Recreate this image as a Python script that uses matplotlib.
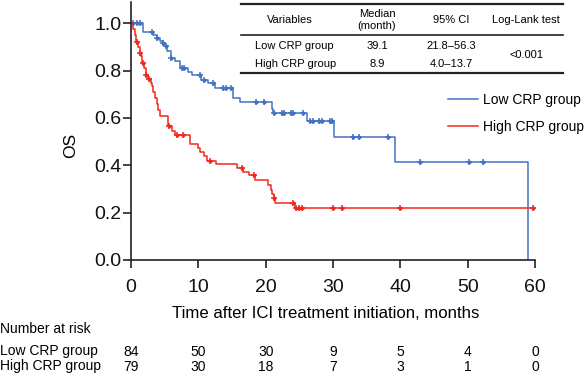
import numpy as np
import matplotlib
matplotlib.use("Agg")
import matplotlib.pyplot as plt
from matplotlib.lines import Line2D
from matplotlib.transforms import blended_transform_factory

plt.rcParams['font.family'] = ['Liberation Sans', 'DejaVu Sans']

# ---- data ----
low_step_t = [1.8, 3.3, 3.8, 4.3, 4.7, 5.1, 5.4, 5.9, 6.5, 7.3, 8.5, 9.0, 10.4, 11.4,
              12.5, 15.2, 16.2, 20.9, 21.1, 26.1, 30.2, 39.2, 59.0]
low_step_s = [0.962, 0.952, 0.938, 0.927, 0.917, 0.903, 0.885, 0.854, 0.842, 0.811,
              0.794, 0.780, 0.762, 0.748, 0.727, 0.683, 0.666, 0.637, 0.620, 0.587,
              0.521, 0.415, 0.0]
low_end = 59.0
low_censor = [0.3, 0.9, 1.4, 3.1, 3.9, 4.8, 5.2, 6.0, 7.5, 7.9, 10.2, 10.9, 12.2, 13.7,
              14.1, 14.9, 18.6, 19.8, 21.3, 22.4, 22.7, 23.8, 24.1, 25.6, 26.6, 27.1,
              27.9, 28.4, 29.5, 29.8, 32.9, 33.8, 38.2, 42.9, 50.2, 52.3]

high_step_t = [0.3, 0.6, 0.8, 1.1, 1.3, 1.5, 1.7, 2.0, 2.2, 2.5, 2.9, 3.1, 3.3, 3.6,
               3.9, 4.0, 4.3, 5.5, 6.1, 6.6, 8.8, 9.9, 10.3, 10.8, 11.3, 12.6, 15.7,
               16.7, 17.5, 18.4, 20.3, 20.8, 21.0, 21.2, 21.4, 24.3]
high_step_s = [0.975, 0.949, 0.922, 0.898, 0.873, 0.860, 0.834, 0.810, 0.782, 0.764,
               0.748, 0.733, 0.710, 0.684, 0.66, 0.633, 0.607, 0.565, 0.544, 0.530,
               0.488, 0.472, 0.458, 0.440, 0.420, 0.406, 0.388, 0.373, 0.357, 0.338,
               0.317, 0.296, 0.279, 0.261, 0.242, 0.218]
high_end = 59.8
high_censor = [0.9, 1.35, 1.8, 2.3, 2.6, 5.7, 6.9, 7.7, 11.8, 16.5, 18.2, 21.3, 24.1,
               24.5, 25.0, 25.4, 30.0, 31.3, 39.9, 59.7]

groups = ["Low CRP group", "High CRP group"]
colors = ["#4472c4", "#f2281c"]
risk_times = [0, 10, 20, 30, 40, 50, 60]
risk_low = [84, 50, 30, 9, 5, 4, 0]
risk_high = [79, 30, 18, 7, 3, 1, 0]

table_header = ["Variables", "Median\n(month)", "95% CI", "Log-Lank test"]
table_median = ["39.1", "8.9"]
table_ci = ["21.8\u201356.3", "4.0\u201313.7"]
table_p = "<0.001"

W, H = 586, 373
fig = plt.figure(figsize=(W / 100, H / 100), dpi=100)

def fx(px):
    return px / W

def fy(py):
    return 1 - py / H

ax = fig.add_axes([fx(131), fy(260), fx(535) - fx(131), fy(2) - fy(260)])

def draw_km(ts, ss, end, cens, color, label):
    x = [0] + list(ts)
    y = [1.0] + list(ss)
    if end > x[-1]:
        x.append(end)
        y.append(y[-1])
    ax.step(x, y, where='post', color=color, lw=1.1, label=label)
    ts_arr = np.array(ts)
    ss_arr = np.array(ss)
    idx = np.searchsorted(ts_arr, np.array(cens), side='right')
    cy = np.where(idx > 0, ss_arr[np.maximum(idx - 1, 0)], 1.0)
    ax.plot(cens, cy, ls='none', marker='+', ms=4, mew=1.1, color=color)
    ax.plot(cens, cy, ls='none', marker='o', ms=1.8, color=color)

draw_km(low_step_t, low_step_s, low_end, low_censor, colors[0], groups[0])
draw_km(high_step_t, high_step_s, high_end, high_censor, colors[1], groups[1])

ax.set_xlim(0, 60)
ax.set_ylim(0, (260 - 2) / 236.7)
ax.set_xticks(risk_times)
ax.set_yticks(np.arange(0, 1.01, 0.2))
ax.set_yticklabels([f"{v:.1f}" for v in np.arange(0, 1.01, 0.2)])
for s in ['top', 'right']:
    ax.spines[s].set_visible(False)
for s in ['left', 'bottom']:
    ax.spines[s].set_linewidth(1.2)
    ax.spines[s].set_color('#222222')
ax.spines['bottom'].set_bounds(0, 60)
ax.tick_params(direction='out', length=5.5, width=1.2, labelsize=14, colors='#222222',
               labelcolor='#111111')
ax.tick_params(axis='x', pad=8.5)
ax.tick_params(axis='y', pad=1.5)
fig.text(fx(326), fy(313), "Time after ICI treatment initiation, months",
         fontsize=12.1, ha='center', va='center')
fig.text(fx(71), fy(145), "OS", fontsize=12.5, rotation=90, ha='center', va='center')

leg = ax.legend(loc='upper left', bbox_to_anchor=((448 - 131) / 404, 1 - (93 - 2) / 258),
                bbox_transform=ax.transAxes, frameon=False, fontsize=10,
                handlelength=2.16, handletextpad=0.36, labelspacing=0.95, borderpad=0,
                borderaxespad=0)

# ---- number at risk ----
tr = blended_transform_factory(ax.transData, fig.transFigure)
fs_r = 10
fig.text(fx(0), fy(329), "Number at risk", fontsize=fs_r, va='center', ha='left')
fig.text(fx(0), fy(351), groups[0], fontsize=fs_r, va='center', ha='left')
fig.text(fx(0), fy(366), groups[1], fontsize=fs_r, va='center', ha='left')
for t, a, b in zip(risk_times, risk_low, risk_high):
    ax.text(t, fy(352), str(a), transform=tr, fontsize=fs_r, ha='center', va='center')
    ax.text(t, fy(367), str(b), transform=tr, fontsize=fs_r, ha='center', va='center')

# ---- table ----
fs_t = 8
x0, x1 = 241, 563
for yy, lw in [(4, 1.6), (35, 1.2), (73, 1.6)]:
    fig.add_artist(Line2D([fx(x0), fx(x1)], [fy(yy), fy(yy)], color='#222222', lw=lw))
col_x = [290, 377, 451, 526]
for cx, h in zip(col_x, table_header):
    fig.text(fx(cx), fy(20), h, fontsize=fs_t, ha='center', va='center', linespacing=1.15)
fig.text(fx(255), fy(46), groups[0], fontsize=fs_t, ha='left', va='center')
fig.text(fx(255), fy(64), groups[1], fontsize=fs_t, ha='left', va='center')
for i, yy in enumerate([46, 64]):
    fig.text(fx(col_x[1]), fy(yy), table_median[i], fontsize=fs_t, ha='center', va='center')
    fig.text(fx(col_x[2]), fy(yy), table_ci[i], fontsize=fs_t, ha='center', va='center')
fig.text(fx(col_x[3]), fy(55), table_p, fontsize=fs_t, ha='center', va='center')

fig.savefig("out.png", dpi=100)
